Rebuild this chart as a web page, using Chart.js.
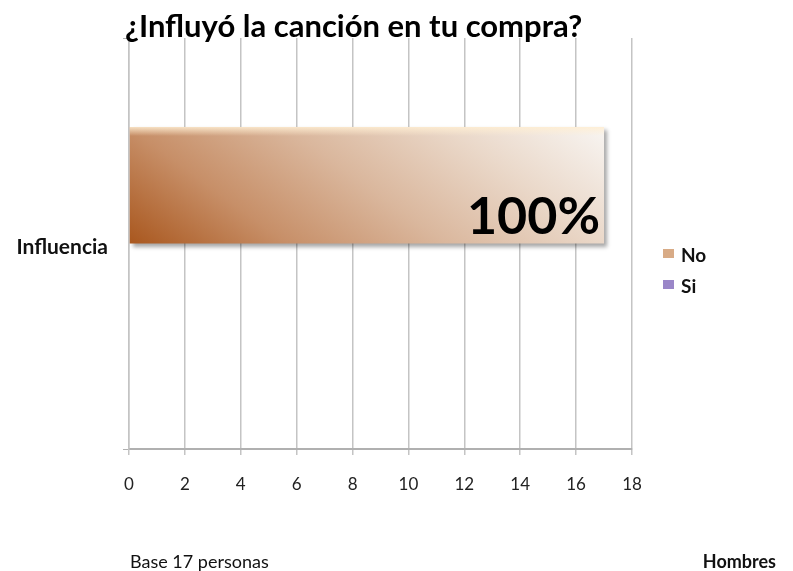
<!DOCTYPE html>
<html>
<head>
<meta charset="utf-8">
<script src="https://cdn.jsdelivr.net/npm/chart.js@4"></script>
<style>
  html, body { margin: 0; padding: 0; background: #fff; }
  #wrap { width: 793px; height: 571px; position: relative; }
</style>
</head>
<body>
<div id="wrap"><canvas id="influence-chart" width="793" height="571"></canvas></div>
<script>
// survey answers, men only
const categories = ["Influencia"];
const seriesNames = ["No", "Si"];
const noValues = [17];
const siValues = [0];
const xMax = 18;
const xStep = 2;

const chartTitle = "¿Influyó la canción en tu compra?";
const baseNote = "Base 17 personas";
const groupNote = "Hombres";

const FONT = "Lato, 'Open Sans', sans-serif";
const CAT_PCT = 0.567;
const swatchColors = ["#d8ab86", "#9a86c8"];

// diagonal brown-to-white fill, dark at bottom-left, pale at top-right
const barFill = (ctx) => {
  const chart = ctx.chart;
  const area = chart.chartArea;
  if (!area || !chart.scales.x) return swatchColors[0];
  const xs = chart.scales.x;
  const ys = chart.scales.y;
  const x0 = xs.getPixelForValue(0);
  const x1 = xs.getPixelForValue(ctx.raw || 0);
  const yc = ys.getPixelForValue(ctx.dataIndex);
  const h = ((area.bottom - area.top) * CAT_PCT) / 2;
  const w = x1 - x0;
  // vector chosen so top-left ~0.25, bottom-right ~0.75, top-right ~1
  const k = 4 / (9 / (w * w) + 1 / (h * h));
  const ax = (3 * k) / w;
  const by = k / h;
  const g = chart.ctx.createLinearGradient(x0, yc, x0 + ax, yc - by);
  g.addColorStop(0, "#a9571e");
  g.addColorStop(0.25, "#c78f68");
  g.addColorStop(0.5, "#dab79d");
  g.addColorStop(0.75, "#ead8c9");
  g.addColorStop(1, "#f8f5f2");
  return g;
};

const barShadow = {
  id: "barShadow",
  beforeDatasetDraw(chart, args) {
    if (args.index !== 0) return;
    const c = chart.ctx;
    c.save();
    c.shadowColor = "rgba(0,0,0,0.35)";
    c.shadowBlur = 4;
    c.shadowOffsetX = 3;
    c.shadowOffsetY = 3;
  },
  afterDatasetDraw(chart, args) {
    if (args.index !== 0) return;
    chart.ctx.restore();
    // light bevel along the top edge
    const el = chart.getDatasetMeta(0).data[0];
    if (!el) return;
    const c = chart.ctx;
    const top = el.y - el.height / 2;
    const left = el.base;
    const g = c.createLinearGradient(0, top, 0, top + 9);
    g.addColorStop(0, "rgba(255,238,210,0.85)");
    g.addColorStop(1, "rgba(255,238,210,0)");
    c.save();
    c.fillStyle = g;
    c.fillRect(left, top, el.x - left, 9);
    c.restore();
  },
};

const pctLabel = {
  id: "pctLabel",
  afterDatasetsDraw(chart) {
    const el = chart.getDatasetMeta(0).data[0];
    if (!el) return;
    const total = noValues[0] + siValues[0];
    const pct = Math.round((noValues[0] / total) * 100) + "%";
    const c = chart.ctx;
    c.save();
    c.font = "bold 52px " + FONT;
    c.fillStyle = "#000";
    c.textAlign = "right";
    c.textBaseline = "alphabetic";
    c.fillText(pct, el.x - 4, el.y + el.height / 2 - 10);
    c.restore();
  },
};

const pageText = {
  id: "pageText",
  afterDraw(chart) {
    const c = chart.ctx;
    c.save();
    c.fillStyle = "#000";
    c.textBaseline = "alphabetic";
    c.textAlign = "left";
    c.font = "bold 31px " + FONT;
    c.fillText(chartTitle, 125, 37);

    c.font = "18px " + FONT;
    c.fillStyle = "#111";
    c.fillText(baseNote, 130, 568);
    c.font = "bold 18px " + FONT;
    c.textAlign = "right";
    c.fillText(groupNote, 776, 568);

    // legend
    c.textAlign = "left";
    c.font = "bold 19px " + FONT;
    c.textBaseline = "middle";
    seriesNames.forEach((name, i) => {
      const y = 255 + i * 31;
      c.fillStyle = swatchColors[i];
      c.fillRect(663, y - 6, 11, 9);
      c.fillStyle = "#111";
      c.fillText(name, 681, y + 1);
    });
    c.restore();
  },
};

new Chart(document.getElementById("influence-chart"), {
  type: "bar",
  data: {
    labels: categories,
    datasets: [
      {
        label: seriesNames[0],
        data: noValues,
        backgroundColor: barFill,
        borderWidth: 0,
      },
      {
        label: seriesNames[1],
        data: siValues,
        backgroundColor: "#8e7cc3",
        borderWidth: 0,
      },
    ],
  },
  options: {
    indexAxis: "y",
    responsive: false,
    animation: false,
    layout: { padding: { top: 38, right: 161, left: 0, bottom: 0 } },
    datasets: { bar: { categoryPercentage: CAT_PCT, barPercentage: 1 } },
    scales: {
      x: {
        min: 0,
        max: xMax,
        ticks: {
          stepSize: xStep,
          padding: 19,
          color: "#222",
          font: { family: FONT, size: 17 },
        },
        grid: { color: "#c4c4c4", lineWidth: 1.5, tickLength: 6 },
        border: { color: "#b0b0b0", width: 2 },
        afterFit(scale) {
          scale.height = 122;
        },
      },
      y: {
        ticks: {
          padding: 15,
          labelOffset: 4,
          color: "#111",
          font: { family: FONT, size: 21, weight: "bold" },
        },
        grid: {
          offset: true,
          drawOnChartArea: false,
          color: "#b0b0b0",
          tickLength: 6,
        },
        border: { color: "#c4c4c4", width: 1.5 },
        afterFit(scale) {
          scale.width = 129;
        },
      },
    },
    plugins: {
      legend: { display: false },
      title: { display: false },
      tooltip: { enabled: false },
    },
  },
  plugins: [barShadow, pctLabel, pageText],
});
</script>
</body>
</html>
